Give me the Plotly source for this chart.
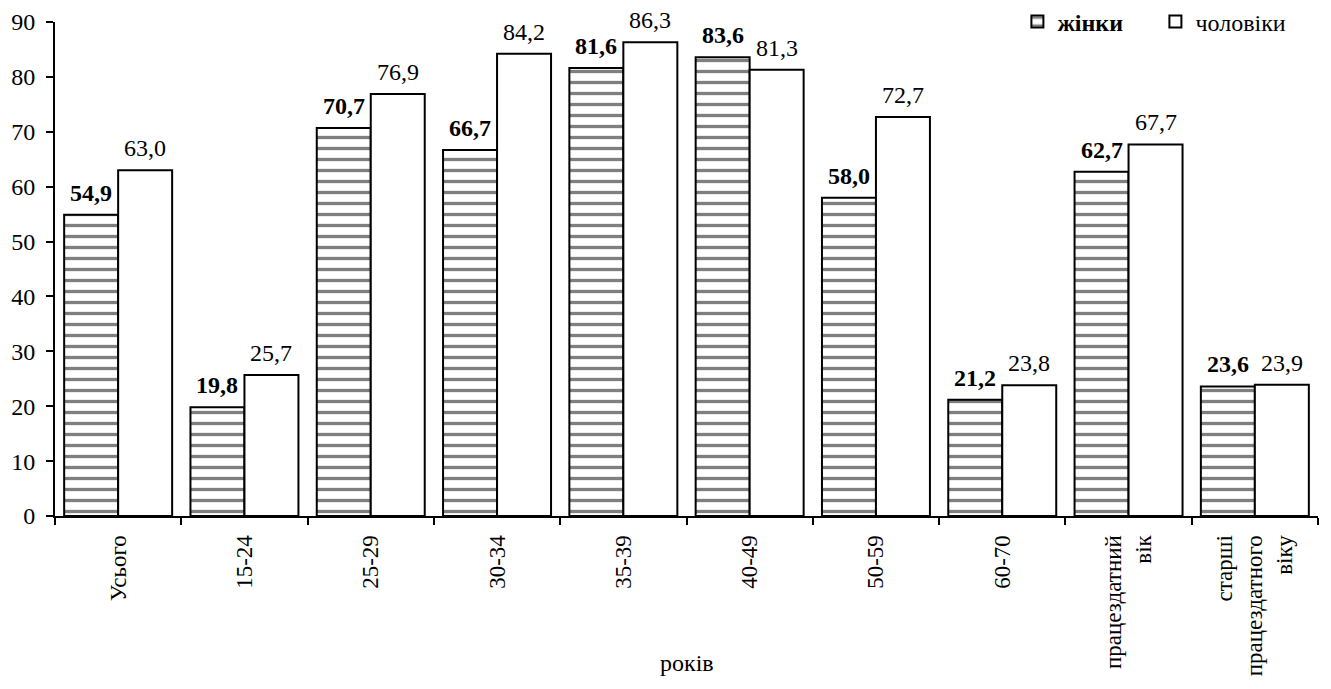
import plotly.graph_objects as go

categories = ["Усього", "15-24", "25-29", "30-34", "35-39", "40-49", "50-59", "60-70",
              "працездатний<br>вік", "старші<br>працездатного<br>віку"]
women = [54.9, 19.8, 70.7, 66.7, 81.6, 83.6, 58.0, 21.2, 62.7, 23.6]
men = [63.0, 25.7, 76.9, 84.2, 86.3, 81.3, 72.7, 23.8, 67.7, 23.9]
x_title = "років"

FONT = "Liberation Serif"
FS = 24

W, H = 1315, 673
ML, MR, MT, MB = 47, 5, 14, 165
BARGAP = 0.145

fig = go.Figure()
fig.add_trace(go.Bar(
    x=categories, y=women, name="<b>жінки</b>",
    marker=dict(color="white", line=dict(color="black", width=2),
                pattern=dict(shape="-", fgcolor="black", bgcolor="white", size=11, solidity=0.3)),
))
fig.add_trace(go.Bar(
    x=categories, y=men, name="чоловіки",
    marker=dict(color="white", line=dict(color="black", width=2)),
))

# value labels above bars
plot_w = W - ML - MR
bar_w = plot_w / len(categories) * (1 - BARGAP) / 2
annotations = []
for c, w, m in zip(categories, women, men):
    annotations.append(dict(x=c, y=w, xref="x", yref="y", xshift=-bar_w / 2, yshift=7,
                            text="<b>" + f"{w:.1f}".replace(".", ",") + "</b>",
                            showarrow=False, xanchor="center", yanchor="bottom",
                            font=dict(family=FONT, size=FS, color="black")))
    annotations.append(dict(x=c, y=m, xref="x", yref="y", xshift=bar_w / 2, yshift=7,
                            text=f"{m:.1f}".replace(".", ","),
                            showarrow=False, xanchor="center", yanchor="bottom",
                            font=dict(family=FONT, size=FS, color="black")))
annotations.append(dict(text=x_title, xref="paper", yref="paper", x=0.5, y=-0.2976,
                        xanchor="center", yanchor="middle", showarrow=False,
                        font=dict(family=FONT, size=FS, color="black")))

fig.update_layout(
    width=W, height=H,
    margin=dict(l=ML, r=MR, t=MT, b=MB, autoexpand=False),
    paper_bgcolor="white", plot_bgcolor="white",
    font=dict(family=FONT, size=FS, color="black"),
    barmode="group", bargap=BARGAP, bargroupgap=0,
    showlegend=True,
    legend=dict(orientation="h", x=0.762, xanchor="left", y=1.0, yanchor="middle",
                bgcolor="rgba(0,0,0,0)", font=dict(family=FONT, size=FS),
                itemwidth=30, entrywidth=93, traceorder="normal"),
    annotations=annotations,
)
fig.update_xaxes(
    type="category", tickson="boundaries", ticks="outside", ticklen=7, tickwidth=2,
    tickcolor="black", showline=True, linecolor="black", linewidth=2,
    tickangle=-90, tickfont=dict(family=FONT, size=23, color="black"),
    ticklabelstandoff=8, showgrid=False, automargin=False,
)
fig.update_yaxes(
    range=[0, 90], dtick=10, ticks="outside", ticklen=7, tickwidth=2, tickcolor="black",
    showline=True, linecolor="black", linewidth=2, showgrid=False, zeroline=False,
    tickfont=dict(family=FONT, size=FS, color="black"), ticklabelstandoff=6,
    automargin=False,
)

fig.write_html("out.html")
